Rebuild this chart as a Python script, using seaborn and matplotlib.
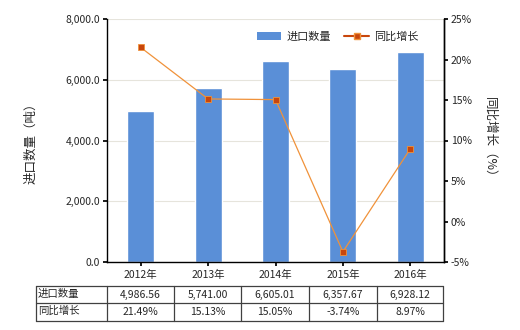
import matplotlib
matplotlib.use("Agg")
import matplotlib.pyplot as plt
import seaborn as sns
import numpy as np
import pandas as pd
from matplotlib.lines import Line2D
from matplotlib.patches import Patch

years = ["2012年", "2013年", "2014年", "2015年", "2016年"]
volume = [4986.56, 5741.00, 6605.01, 6357.67, 6928.12]
growth = [21.49, 15.13, 15.05, -3.74, 8.97]
volume_labels = ["4,986.56", "5,741.00", "6,605.01", "6,357.67", "6,928.12"]
growth_labels = ["21.49%", "15.13%", "15.05%", "-3.74%", "8.97%"]
series_names = ["进口数量", "同比增长"]

sns.set_theme(style="white")
plt.rcParams['font.family'] = ['Noto Sans CJK SC', 'DejaVu Sans']

W, H = 520, 330
fig = plt.figure(figsize=(W/100, H/100), dpi=100)
L, R, T, B = 107, 444, 19, 262
ax = fig.add_axes([L/W, 1-B/H, (R-L)/W, (B-T)/H])

bar_color = "#5A8FD7"
line_color = "#F0923A"
marker_color = "#C8460C"

df = pd.DataFrame({"year": years, "volume": volume})
sns.barplot(data=df, x="year", y="volume", ax=ax, color=bar_color, width=0.4,
            saturation=1)
ax.set_xlim(-0.5, 4.5)
ax.set_ylim(0, 8000)
ax.set_yticks([0, 2000, 4000, 6000, 8000])
ax.set_yticklabels([f"{v:,.1f}" for v in [0, 2000, 4000, 6000, 8000]], fontsize=7.5)
ax.yaxis.grid(True, color="#E6E4DC", linewidth=0.8)
ax.set_axisbelow(True)
ax.set_xlabel("")
ax.set_ylabel("进口数量（吨）", fontsize=9, labelpad=20)
ax.tick_params(axis="x", labelsize=7.5, length=3, color="black", bottom=True, pad=3)
ax.tick_params(axis="y", length=3, color="black", left=True, pad=2)
for s in ["top"]:
    ax.spines[s].set_visible(False)
for s in ["left", "bottom", "right"]:
    ax.spines[s].set_color("black")
    ax.spines[s].set_linewidth(1)

ax2 = ax.twinx()
sns.lineplot(x=np.arange(len(years)), y=growth, ax=ax2, color=line_color,
             linewidth=0.9, marker="s", markersize=5, markerfacecolor=marker_color,
             markeredgecolor=line_color, markeredgewidth=0.6)
ax2.set_ylim(-5, 25)
ax2.set_yticks([-5, 0, 5, 10, 15, 20, 25])
ax2.set_yticklabels([f"{v}%" for v in [-5, 0, 5, 10, 15, 20, 25]], fontsize=7.5)
ax2.tick_params(axis="y", length=3, color="black", right=True, pad=2)
ax2.set_ylabel("同比增长（%）", fontsize=9, rotation=-90, labelpad=17)
for s in ["top", "left", "bottom"]:
    ax2.spines[s].set_visible(False)
ax2.spines["right"].set_color("black")
ax2.spines["right"].set_linewidth(1)
ax2.grid(False)

handles = [Patch(facecolor=bar_color, edgecolor="none"),
           Line2D([0], [0], color=marker_color, linewidth=1.5, marker="s",
                  markersize=4, markerfacecolor=marker_color, markeredgecolor=line_color)]
ax2.legend(handles, series_names, loc="upper right", bbox_to_anchor=(0.955, 0.99),
           ncol=2, frameon=False, fontsize=8, handlelength=2.2, columnspacing=1.2,
           handletextpad=0.5)

# table below
col_x = [36, 107, 174, 241, 309, 377, 443]
row_y = [286, 303, 321]
def fx(x): return x / W
def fy(y): return 1 - y / H
for y in row_y:
    fig.add_artist(Line2D([fx(col_x[0]), fx(col_x[-1])], [fy(y), fy(y)], color="#404040", linewidth=0.9))
for x in col_x:
    fig.add_artist(Line2D([fx(x), fx(x)], [fy(row_y[0]), fy(row_y[-1])], color="#404040", linewidth=0.9))
rows = [volume_labels, growth_labels]
for r, (name, vals) in enumerate(zip(series_names, rows)):
    yc = (row_y[r] + row_y[r+1]) / 2
    fig.text(fx(col_x[0] + 2), fy(yc - 1), name, fontsize=7.5, ha="left", va="center")
    for c, v in enumerate(vals):
        xc = (col_x[c+1] + col_x[c+2]) / 2
        fig.text(fx(xc), fy(yc), v, fontsize=7.5, ha="center", va="center")

fig.savefig("out.png", dpi=100)
